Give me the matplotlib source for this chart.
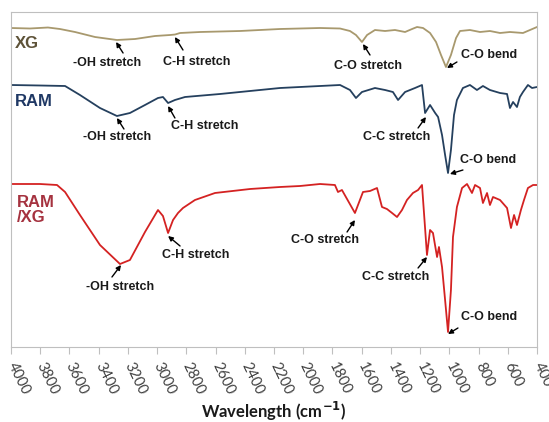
"""FTIR spectra of XG, RAM and RAM/XG with band assignments."""

import matplotlib
import matplotlib.pyplot as plt

matplotlib.use("Agg")

# wavenumber (cm-1) and stacked trace level (offset units, plotted downward)
xg_wn = [4000, 3870, 3747, 3665, 3562, 3425, 3275, 3151, 3014, 2911, 2877, 2843,
         2706, 2433, 2159, 1885, 1748, 1680, 1639, 1598, 1563, 1509, 1440, 1372,
         1303, 1255, 1221, 1180, 1132, 1091, 1057, 1023, 989, 954, 927, 859, 790,
         722, 653, 585, 496, 448, 400]
xg_t = [28, 28.5, 27.5, 29, 32, 37, 40, 39, 36, 35, 34.5, 33,
        32, 31, 29, 28, 28.5, 31, 35, 42, 35, 30, 31, 30,
        32, 29, 27, 28, 33, 42, 55, 67, 55, 38, 31, 30, 32,
        31, 33, 32, 33, 30, 27]

ram_wn = [4000, 3802, 3630, 3528, 3391, 3275, 3186, 3083, 2994, 2960, 2925, 2878,
          2809, 2570, 2159, 1885, 1748, 1680, 1639, 1598, 1509, 1440, 1386, 1351,
          1303, 1235, 1187, 1166, 1132, 1097, 1077, 1050, 1029, 1009, 989, 968,
          948, 907, 859, 811, 770, 722, 653, 605, 585, 564, 537, 517, 496, 462,
          434, 400]
ram_t = [85, 85.5, 86, 95, 108, 116, 113, 105, 98, 97, 103, 100,
         97, 94, 88, 86, 85, 90, 98, 92, 88, 90, 92, 100,
         92, 88, 85, 113, 105, 113, 117, 135, 155, 173, 150, 115,
         100, 88, 85, 90, 86, 90, 93, 94, 108, 102, 107, 97, 92, 85,
         88, 87]

mix_wn = [4000, 3802, 3685, 3630, 3528, 3391, 3254, 3186, 3083, 2994, 2960, 2925,
          2891, 2857, 2823, 2741, 2604, 2364, 2159, 2022, 1885, 1783, 1762, 1735,
          1646, 1591, 1543, 1495, 1461, 1427, 1392, 1358, 1324, 1290, 1249, 1214,
          1187, 1153, 1132, 1112, 1084, 1071, 1050, 1029, 1009, 989, 975, 948,
          913, 879, 845, 824, 790, 770, 742, 722, 701, 653, 605, 578, 557, 537,
          510, 489, 462, 427, 400]
mix_t = [184, 184, 185, 192, 215, 245, 264, 260, 232, 210, 216, 233,
         220, 213, 208, 200, 193, 189, 187, 186, 184, 185, 192, 190,
         213, 192, 191, 188, 207, 209, 213, 217, 210, 200, 193, 190,
         185, 255, 230, 233, 257, 247, 267, 300, 332, 290, 237, 207,
         188, 184, 193, 185, 188, 203, 193, 205, 197, 200, 208, 228, 215, 225,
         210, 200, 188, 185, 185]

ticks = list(range(4000, 399, -200))

# (label, text x, text y, arrow tail x, tail y, arrow head x, head y)
notes = [
    ("-OH stretch", 3343, 63, 3233, 53, 3281, 42),
    ("C-H stretch", 2727, 62, 2823, 50, 2878, 37),
    ("C-O stretch", 1557, 66, 1543, 55, 1591, 44),
    ("C-O bend", 729, 55, 948, 62, 1016, 68),
    ("-OH stretch", 3275, 137, 3227, 129, 3275, 118),
    ("C-H stretch", 2672, 126, 2878, 118, 2925, 106),
    ("C-C stretch", 1358, 137, 1214, 128, 1160, 117),
    ("C-O bend", 735, 160, 907, 170, 996, 174),
    ("-OH stretch", 3254, 287, 3309, 277, 3247, 265),
    ("C-H stretch", 2734, 255, 2843, 246, 2925, 236),
    ("C-O stretch", 1851, 240, 1700, 232, 1646, 220),
    ("C-C stretch", 1365, 277, 1214, 268, 1153, 257),
    ("C-O bend", 729, 317, 941, 328, 1009, 334),
]

fig = plt.figure(figsize=(5.49, 4.22), dpi=100)
ax = fig.add_axes([11 / 549, 1 - 347 / 422, 526 / 549, 335 / 422])

ax.plot(xg_wn, xg_t, color="#a8996e", lw=1.3)
ax.plot(ram_wn, ram_t, color="#25405e", lw=1.3)
ax.plot(mix_wn, mix_t, color="#d42222", lw=1.3)

ax.set_xlim(4000, 400)
ax.set_ylim(347, 12)

# sample names
ax.text(3973, 44, "XG", color="#5e5339", fontsize=12, fontweight="bold",
        family="Liberation Sans", va="center", ha="left")
ax.text(3973, 102, "RAM", color="#1f3864", fontsize=12, fontweight="bold",
        family="Liberation Sans", va="center", ha="left")
ax.text(3960, 210, "RAM\n/XG", color="#a5323f", fontsize=12, fontweight="bold",
        family="Liberation Sans", va="center", ha="left", linespacing=1.02)

for label, tx, ty, ax0, ay0, hx, hy in notes:
    ax.text(tx, ty, label, fontsize=9, fontweight="bold", family="Liberation Sans",
            ha="center", va="center", color="#1a1a1a")
    ax.annotate("", xy=(hx, hy), xytext=(ax0, ay0),
                arrowprops=dict(arrowstyle="-|>", color="black", lw=1.0,
                                mutation_scale=7, shrinkA=0, shrinkB=0))

for side in ax.spines.values():
    side.set_color("#bfbfbf")
ax.set_yticks([])
ax.set_xticks(ticks)
ax.set_xticklabels([str(t) for t in ticks], rotation=-64, rotation_mode="anchor",
                   ha="left", va="center", family="Lato", fontsize=10.5,
                   color="#404040")
ax.tick_params(axis="x", direction="out", length=5, color="#bfbfbf", pad=7)
fig.text(274 / 549, 1 - 411 / 422, r"Wavelength (cm$^{\mathbf{-1}}$)",
         family="Lato", fontweight="bold", fontsize=12, color="#1a1a1a",
         ha="center", va="center")

fig.savefig("out.png", dpi=100)
